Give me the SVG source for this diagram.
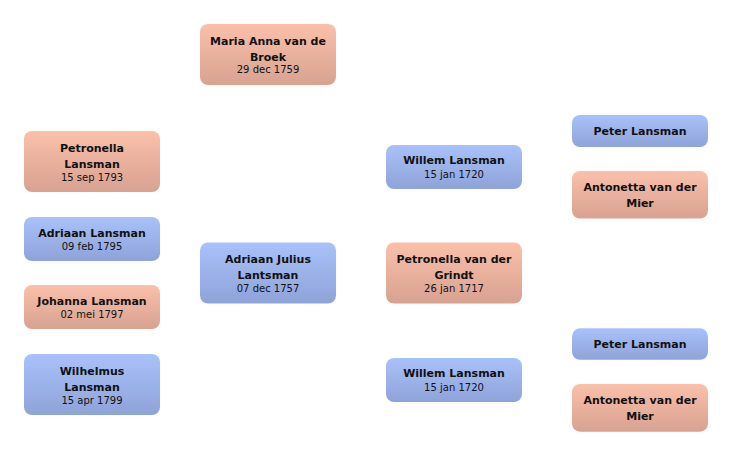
<svg xmlns="http://www.w3.org/2000/svg" width="732" height="456" viewBox="0 0 732 456">
<defs>
<linearGradient id="gp" x1="0" y1="0" x2="0" y2="1"><stop offset="0" stop-color="#fac0aa"/><stop offset="1" stop-color="#d8a291"/></linearGradient>
<linearGradient id="gb" x1="0" y1="0" x2="0" y2="1"><stop offset="0" stop-color="#a9c1fa"/><stop offset="1" stop-color="#8ea3d8"/></linearGradient>
</defs>
<style>
rect.f{fill:url(#gp)}
rect.m{fill:url(#gb)}
rect{rx:8px}
text{font-family:"DejaVu Sans","Liberation Sans",sans-serif;text-anchor:middle;fill:#111}
.n{font-size:11px;font-weight:bold}
.d{font-size:10px}
</style>
<g id="connectors"></g>
<g id="maria"><rect class="f" x="200" y="24" width="136" height="61" rx="8"/><text class="n" x="268" y="44.5">Maria Anna van de</text><text class="n" x="268" y="60.5">Broek</text><text class="d" x="268" y="72.5">29 dec 1759</text></g>
<g id="petronella"><rect class="f" x="24" y="131" width="136" height="61" rx="8"/><text class="n" x="92" y="151.5">Petronella</text><text class="n" x="92" y="167.5">Lansman</text><text class="d" x="92" y="180.5">15 sep 1793</text></g>
<g id="adriaan"><rect class="m" x="24" y="217" width="136" height="44" rx="8"/><text class="n" x="92" y="236.5">Adriaan Lansman</text><text class="d" x="92" y="249.5">09 feb 1795</text></g>
<g id="johanna"><rect class="f" x="24" y="285" width="136" height="44" rx="8"/><text class="n" x="92" y="304.5">Johanna Lansman</text><text class="d" x="92" y="317.5">02 mei 1797</text></g>
<g id="wilhelmus"><rect class="m" x="24" y="354" width="136" height="61" rx="8"/><text class="n" x="92" y="374.5">Wilhelmus</text><text class="n" x="92" y="390.5">Lansman</text><text class="d" x="92" y="403.5">15 apr 1799</text></g>
<g id="adriaanjulius"><rect class="m" x="200" y="242.5" width="136" height="61" rx="8"/><text class="n" x="268" y="263.3">Adriaan Julius</text><text class="n" x="268" y="279.3">Lantsman</text><text class="d" x="268" y="291.5">07 dec 1757</text></g>
<g id="willem1"><rect class="m" x="386" y="145" width="136" height="44" rx="8"/><text class="n" x="454" y="164.3">Willem Lansman</text><text class="d" x="454" y="177.5">15 jan 1720</text></g>
<g id="petronellagrindt"><rect class="f" x="386" y="242.5" width="136" height="61" rx="8"/><text class="n" x="454" y="263.3">Petronella van der</text><text class="n" x="454" y="279.3">Grindt</text><text class="d" x="454" y="291.5">26 jan 1717</text></g>
<g id="willem2"><rect class="m" x="386" y="358" width="136" height="44" rx="8"/><text class="n" x="454" y="377.3">Willem Lansman</text><text class="d" x="454" y="390.5">15 jan 1720</text></g>
<g id="peter1"><rect class="m" x="572" y="115" width="136" height="32" rx="8"/><text class="n" x="640" y="135.3">Peter Lansman</text></g>
<g id="antonetta1"><rect class="f" x="572" y="171" width="136" height="47.5" rx="8"/><text class="n" x="640" y="191">Antonetta van der</text><text class="n" x="640" y="207">Mier</text></g>
<g id="peter2"><rect class="m" x="572" y="328.3" width="136" height="31.5" rx="8"/><text class="n" x="640" y="348.3">Peter Lansman</text></g>
<g id="antonetta2"><rect class="f" x="572" y="384" width="136" height="47.7" rx="8"/><text class="n" x="640" y="404">Antonetta van der</text><text class="n" x="640" y="420">Mier</text></g>
</svg>
